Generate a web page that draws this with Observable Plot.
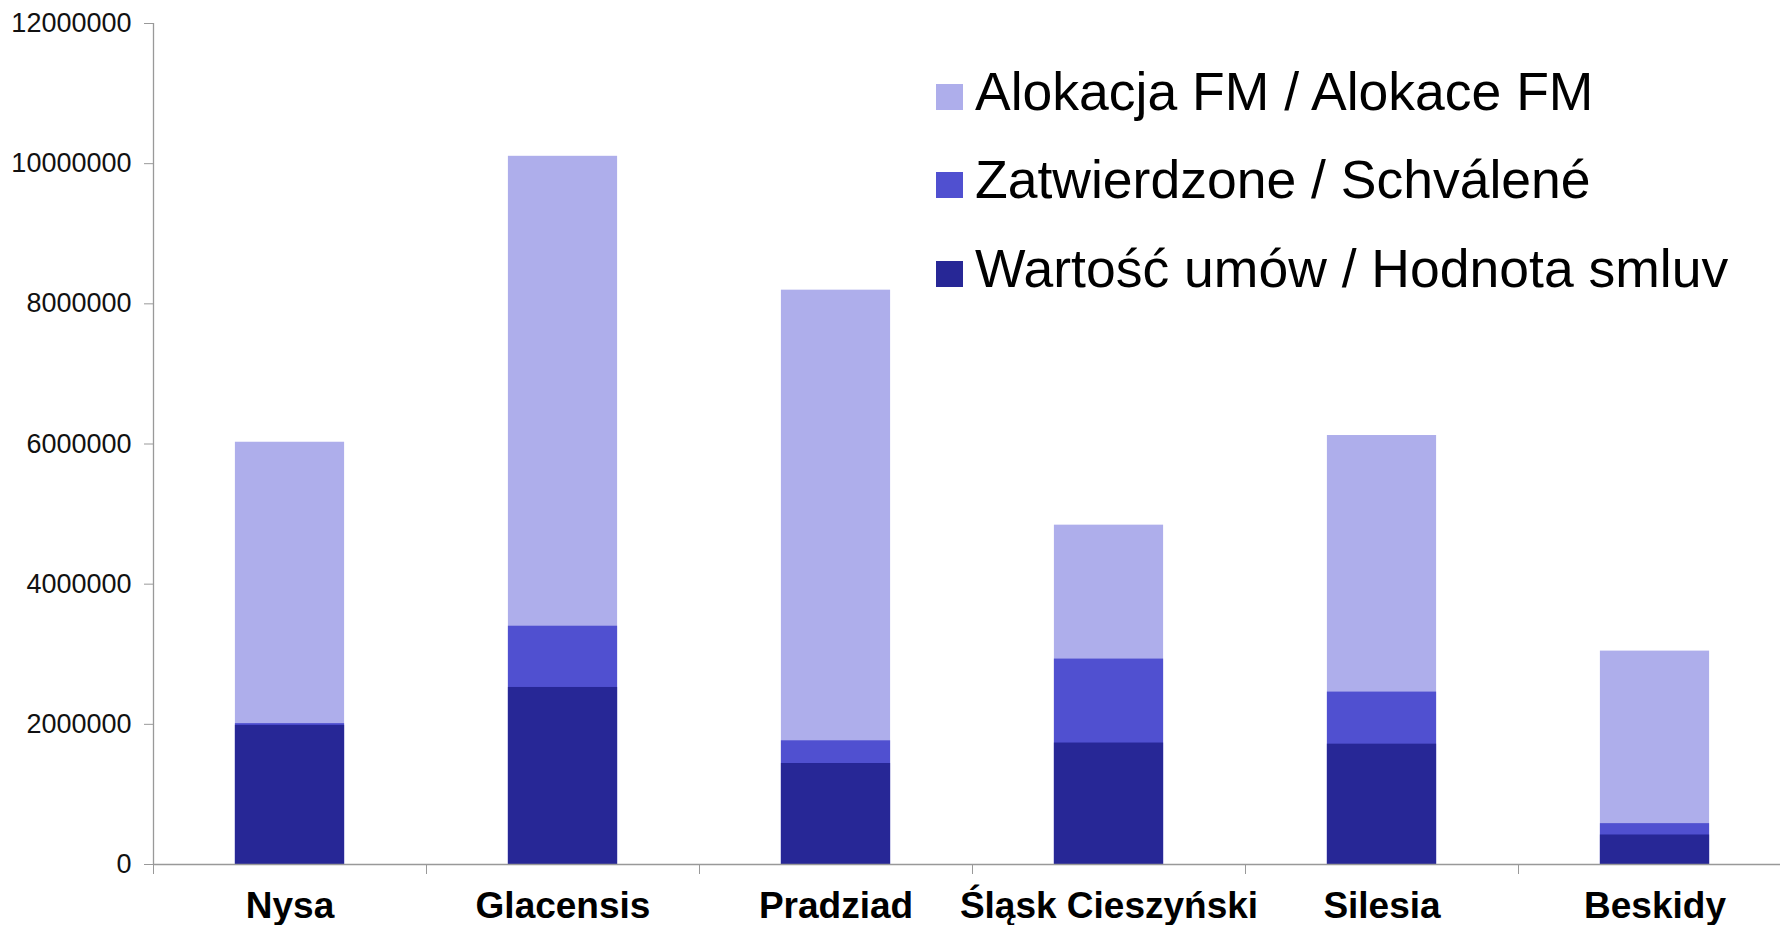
<!DOCTYPE html>
<html>
<head>
<meta charset="utf-8">
<script src="https://cdn.jsdelivr.net/npm/d3@7"></script>
<script src="https://cdn.jsdelivr.net/npm/@observablehq/plot@0.6"></script>
<style>
  html, body { margin: 0; padding: 0; background: #fff; overflow: hidden; }
  #wrap { position: relative; width: 1780px; height: 925px; font-family: "Liberation Sans", Arial, sans-serif; }
  .lg { position: absolute; left: 936px; font-size: 53.5px; line-height: 1; color: #000; white-space: nowrap; }
  .sw { display: inline-block; width: 27px; height: 26px; margin-right: 12px; vertical-align: baseline; }
</style>
</head>
<body>
<div id="wrap"></div>
<script>
const categories = ["Nysa", "Glacensis", "Pradziad", "Śląsk Cieszyński", "Silesia", "Beskidy"];
const alokacja     = [6025000, 10105000, 8195000, 4842000, 6121000, 3045000];
const zatwierdzone = [2010000, 3400000, 1765000, 2931000, 2460000, 583000];
const wartosc      = [1985000, 2526000, 1441000, 1733000, 1717000, 421000];
const seriesNames  = ["Alokacja FM / Alokace FM", "Zatwierdzone / Schválené", "Wartość umów / Hodnota smluv"];
const seriesColors = ["#aeaeeb", "#5050d0", "#272796"];
const yTicks = [0, 2000000, 4000000, 6000000, 8000000, 10000000, 12000000];

const rows = categories.map((c, i) => ({i, c, a: alokacja[i], z: zatwierdzone[i], w: wartosc[i]}));
const bounds = d3.range(categories.length + 1);

const chart = Plot.plot({
  width: 1780,
  height: 925,
  marginLeft: 153,
  marginRight: 0,
  marginTop: 23,
  marginBottom: 61,
  style: {fontFamily: '"Liberation Sans", Arial, sans-serif', background: "#fff", color: "#000"},
  x: {type: "linear", domain: [0, categories.length], range: [153, 1791], axis: null},
  y: {domain: [0, 12000000], axis: null},
  marks: [
    Plot.rectY(rows, {x1: d => d.i + 0.3, x2: d => d.i + 0.7, y1: 0, y2: "a", fill: seriesColors[0]}),
    Plot.rectY(rows, {x1: d => d.i + 0.3, x2: d => d.i + 0.7, y1: 0, y2: "z", fill: seriesColors[1]}),
    Plot.rectY(rows, {x1: d => d.i + 0.3, x2: d => d.i + 0.7, y1: 0, y2: "w", fill: seriesColors[2]}),
    Plot.ruleX([0], {stroke: "#999", strokeWidth: 1.3}),
    Plot.ruleY([0], {stroke: "#999", strokeWidth: 1.3}),
    Plot.axisY({ticks: yTicks, tickFormat: d => String(d), tickSize: 9, tickPadding: 13,
      fontSize: 27, stroke: "#999", fill: "#111"}),
    Plot.axisX({ticks: bounds, tickFormat: () => "", tickSize: 10, stroke: "#999"}),
    Plot.text(rows, {x: d => d.i + 0.5, y: 0, text: "c", dy: 42, fontSize: 37, fontWeight: "bold",
      fill: "#000", textAnchor: "middle", lineAnchor: "middle"})
  ]
});

const wrap = document.getElementById("wrap");
wrap.appendChild(chart);

const tops = [64.5, 153, 241.5];
seriesNames.forEach((name, k) => {
  const div = document.createElement("div");
  div.className = "lg";
  div.style.top = tops[k] + "px";
  const sw = document.createElement("span");
  sw.className = "sw";
  sw.style.background = seriesColors[k];
  div.appendChild(sw);
  div.appendChild(document.createTextNode(name));
  wrap.appendChild(div);
});
</script>
</body>
</html>
